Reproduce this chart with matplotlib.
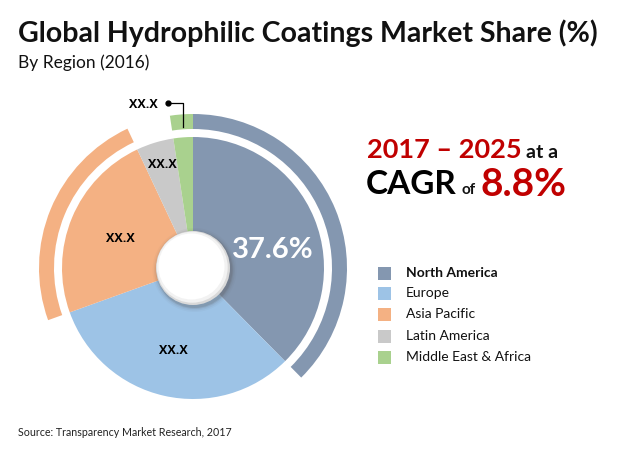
import matplotlib
matplotlib.use("Agg")
import matplotlib.pyplot as plt
from matplotlib.patches import Wedge, Circle, Rectangle

regions = ["North America", "Europe", "Asia Pacific", "Latin America", "Middle East & Africa"]
shares = [37.6, 31.9, 23.5, 4.6, 2.4]
slice_labels = ["37.6%", "XX.X", "XX.X", "XX.X", "XX.X"]
colors = ["#8497b0", "#9dc3e6", "#f4b183", "#c9c9c9", "#a9d18e"]
outer_ring = [True, False, True, False, True]

W, H = 620, 453
fig = plt.figure(figsize=(6.2, 4.53), dpi=100)
ax = fig.add_axes([0, 0, 1, 1])

def Y(y):
    return H - y

cx, cy, R = 193, Y(268), 131
wedges, _ = ax.pie(shares, colors=colors, startangle=90, counterclock=False,
                   radius=R, center=(cx, cy),
                   wedgeprops=dict(linewidth=0))

# outer arcs
for w, on, c in zip(wedges, outer_ring, colors):
    if on:
        ax.add_patch(Wedge((cx, cy), 154, w.theta1, w.theta2, width=15,
                           facecolor=c, edgecolor="none"))

# center circle with shadow
for r, a in [(42, 0.04), (40.5, 0.07), (39, 0.12), (38, 0.18)]:
    ax.add_patch(Circle((cx + 1.5, cy - 2), r, facecolor="#555555", alpha=a, edgecolor="none"))
ax.add_patch(Circle((cx, cy), 37, facecolor="#d9d9d9", edgecolor="none"))
ax.add_patch(Circle((cx - 0.8, cy + 0.8), 35.5, facecolor="#f2f2f2", edgecolor="none"))
ax.add_patch(Circle((cx - 1.5, cy + 1.5), 33, facecolor="#ffffff", edgecolor="none"))

# slice labels
ax.text(273, Y(250), slice_labels[0], color="white", fontsize=21, fontweight="bold",
        ha="center", va="center", family="Lato")
small = dict(color="black", fontsize=9, fontweight="bold", ha="center", va="center",
             family="Open Sans")
ax.text(173, Y(350), slice_labels[1], **small)
ax.text(120, Y(239), slice_labels[2], **small)
ax.text(162, Y(164), slice_labels[3], **small)
ax.text(143, Y(104), slice_labels[4], **small)
ax.plot([168, 183, 183], [Y(103), Y(103), Y(127)], color="black", lw=0.9)
ax.plot([168], [Y(103)], marker="o", color="black", ms=3.5)

# titles
ax.text(18, Y(33), "Global Hydrophilic Coatings Market Share (%)", fontsize=20.5,
        fontweight="bold", family="Lato", ha="left", va="center", color="#111111")
ax.text(18, Y(63), "By Region (2016)", fontsize=12.5, family="Lato", ha="left",
        va="center", color="#111111")

# CAGR text
ax.text(367, Y(150), "2017 – 2025", fontsize=19.5, fontweight="bold", family="Lato",
        color="#c00000", ha="left", va="center")
ax.text(526, Y(152), "at a", fontsize=14, fontweight="bold", family="Lato",
        color="#111111", ha="left", va="center")
ax.text(366, Y(184), "CAGR", fontsize=24, fontweight="bold", family="Lato",
        color="#000000", ha="left", va="center")
ax.text(461, Y(190), "of", fontsize=11, fontweight="bold", family="Lato",
        color="#111111", ha="left", va="center")
ax.text(480, Y(184), "8.8%", fontsize=28, fontweight="bold", family="Lato",
        color="#c00000", ha="left", va="center")

# legend
leg_y = [273, 293, 314, 336, 357]
for name, c, y in zip(regions, colors, leg_y):
    ax.add_patch(Rectangle((378, Y(y) - 6.5), 13, 13, facecolor=c, edgecolor="none"))
    ax.text(406, Y(y), name, fontsize=10, family="Lato", ha="left", va="center",
            color="#111111", fontweight="bold" if name == "North America" else "normal")

ax.text(18, Y(433), "Source: Transparency Market Research, 2017", fontsize=7.7,
        family="Lato", ha="left", va="center", color="#222222")

ax.set_xlim(0, W)
ax.set_ylim(0, H)
ax.set_aspect("auto")
ax.axis("off")
fig.savefig("out.png", dpi=100, facecolor="white")
